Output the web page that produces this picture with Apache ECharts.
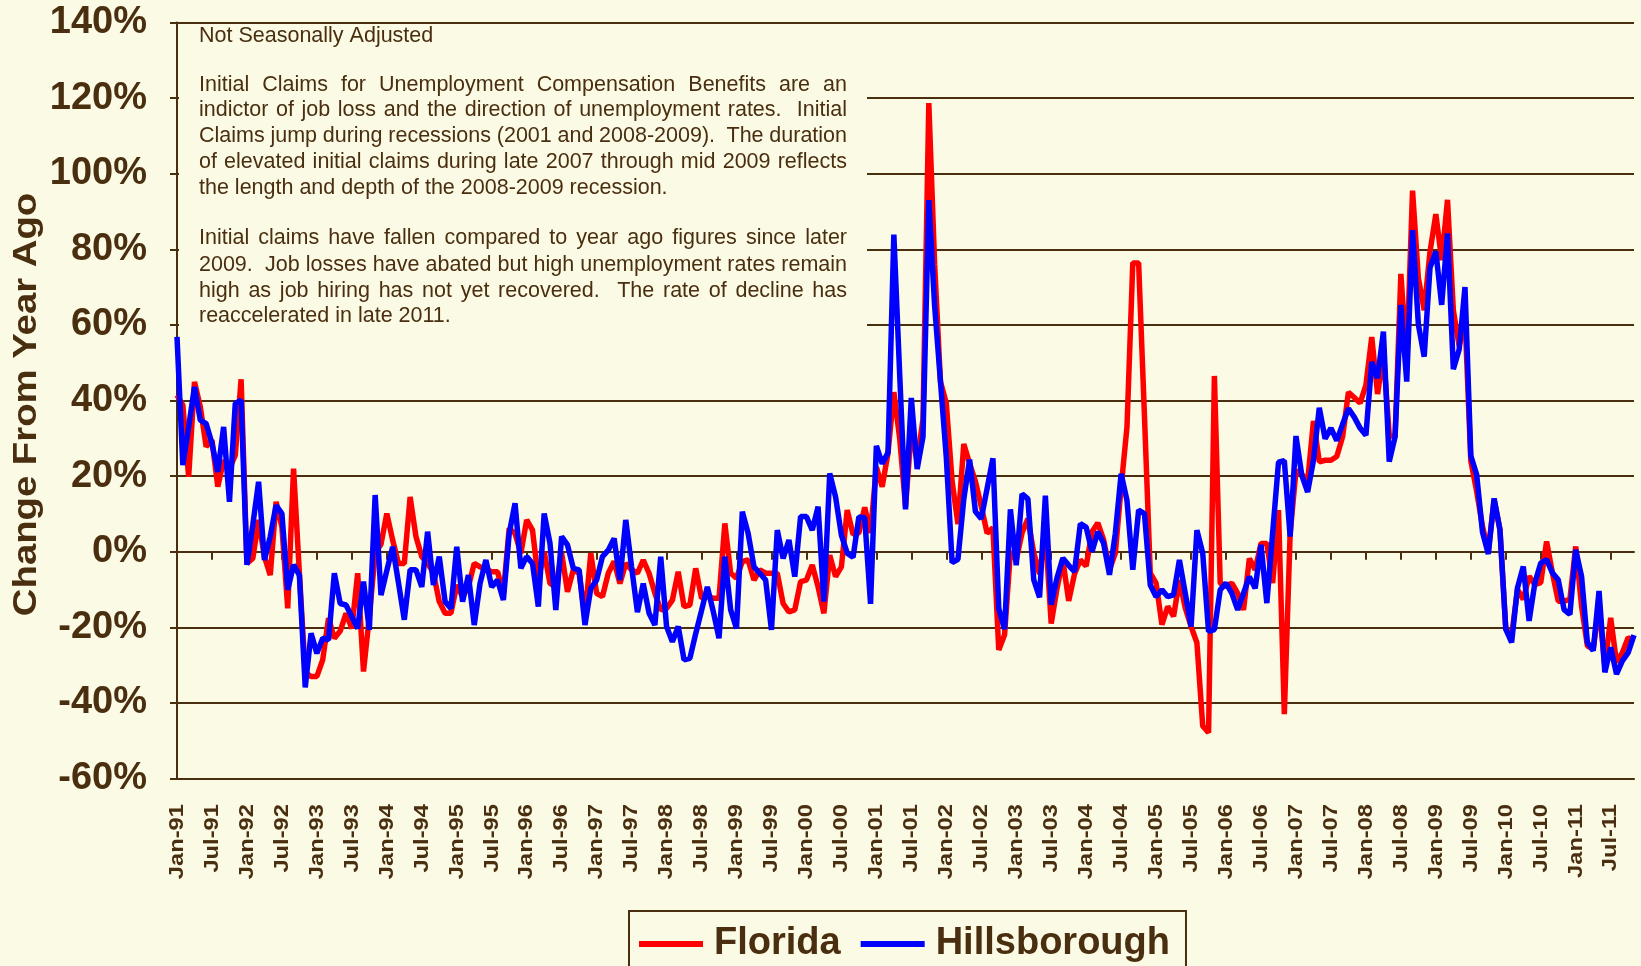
<!DOCTYPE html>
<html>
<head>
<meta charset="UTF-8">
<title>Initial Claims - Change From Year Ago</title>
<style>
  html, body { margin: 0; padding: 0; background: #fbfae4; }
  #main { width: 1641px; height: 966px; }
</style>
</head>
<body>
<div id="main"></div>
<script src="https://cdn.jsdelivr.net/npm/echarts@6/dist/echarts.min.js"></script>
<script>
// months Jan-91 .. Nov-11
var monthNames = ['Jan', 'Feb', 'Mar', 'Apr', 'May', 'Jun', 'Jul', 'Aug', 'Sep', 'Oct', 'Nov', 'Dec'];
var startYear = 1991;
var monthCount = 251;
var months = [];
for (var i = 0; i < monthCount; i++) {
    var yr = (startYear + Math.floor(i / 12)) % 100;
    months.push(monthNames[i % 12] + '-' + (yr < 10 ? '0' + yr : yr));
}

// % change from year ago, one row per year
var florida = [
    41.4, 38.8, 19.8, 44.9, 38.3, 27.8, 29.5, 17.2, 24.2, 22, 25.5, 45.6,
    -3.1, -1.8, 8.4, -1.3, -6.2, 13.2, 6.6, -15, 22, -5.7, -32, -33,
    -33, -28.6, -17.6, -22.9, -21, -16.3, -20.3, -5.7, -31.7, -17.2, -0.4, 2,
    10.1, 3.1, -3.1, -3.1, 14.5, 4, -1.3, -3, -5.7, -13.2, -16.3, -16.3,
    -8.8, -11.9, -9.3, -3.1, -4, -4.8, -5.3, -5.3, -11, 6.2, 4.8, -0.4,
    8.4, 5.7, -7.5, 0, -8.4, -9.3, -0.4, -10.6, -4.8, -5.7, -17.2, -0.4,
    -11, -11.9, -5.7, -2.6, -8.4, -3.1, -4.8, -5.7, -2.2, -5.7, -11, -15.4,
    -15, -12.8, -5.3, -14.5, -14.1, -4.4, -12.3, -11.9, -12.3, -12.3, 7.5, -5.7,
    -7, -2.6, -2.2, -7.5, -4.8, -5.7, -5.7, -5.7, -13.7, -15.9, -15.4, -7.9,
    -7.5, -3.5, -9.3, -16.3, -0.9, -6.6, -4, 11, 4.6, 5, 11.7, 5,
    22.4, 17.2, 26.1, 42.2, 30, 12, 32, 24, 35, 118.7, 76, 45,
    39.3, 18.6, 7.3, 28.5, 23.3, 18.6, 12, 4.9, 6.3, -26, -22, 0,
    -2.2, 5, 8.7, -0.3, -5.9, 5.4, -19, -9.7, -2.2, -13, -5.9, -2.2,
    -3.8, 5.3, 7.6, 3.1, -4.8, -0.4, 17.1, 32.9, 76.4, 76.4, 36, -5.7,
    -8.3, -19.3, -14.5, -17.1, -7.5, -14.9, -19.8, -24.1, -46.1, -47.9, 46.5, -8.3,
    -9.2, -8.3, -11, -15.4, -1.8, -4.8, 2.2, 2.2, -8.3, 11, -43, 4.8,
    21.4, 20.5, 18.6, 34.6, 23.8, 24.2, 24.2, 25.2, 30.4, 42.2, 40.8, 39.3,
    44.1, 56.8, 41.7, 52.5, 30.8, 30.4, 73.5, 50.7, 95.5, 72.4, 63.9, 79.4,
    89.3, 77.1, 93.1, 63.9, 54.4, 62, 24, 16, 6.7, 0.1, 13.7, 5.8,
    -20.5, -22.3, -10, -12.6, -6.5, -8.7, -8.2, 2.7, -5.6, -13.1, -13.1, -12.6,
    1.4, -14.4, -24.9, -25.8, -14.4, -30.2, -17.5, -29.3, -26.7, -22.7, -23.6
];
var hillsborough = [
    56.8, 22.9, 33, 43.6, 34.8, 33.9, 28.6, 21.1, 33, 13.2, 39.2, 40.1,
    -3.5, 7, 18.5, -2.2, 4, 12.3, 10.1, -10.1, -3.5, -6.2, -35.9, -21.6,
    -26.9, -22.9, -23.3, -5.7, -13.7, -14.1, -17.2, -20.3, -7.9, -20.7, 15, -11.5,
    -5, 1.3, -8.2, -18, -4.8, -4.8, -9.3, 5.3, -8.8, -1.3, -13.2, -15,
    1.3, -13.2, -6.2, -19.4, -8.4, -2.2, -9.3, -7.5, -12.8, 4.8, 12.8, -4.4,
    -1.3, -3.1, -14.5, 10.1, 2.2, -15.4, 4, 1.8, -4.4, -4.8, -19.4, -9.7,
    -7.5, -1.3, 0.4, 3.5, -7.5, 8.4, -4, -16, -8.4, -16.3, -19.4, -1.3,
    -19.8, -23.8, -19.8, -28.6, -28.2, -21.7, -15.6, -9.3, -15.7, -22.9, -1.3, -15.4,
    -20.3, 10.6, 4.8, -4, -5.7, -7.5, -20.7, 5.7, -1.8, 3.1, -6.6, 9.3,
    9.3, 5.7, 11.9, -13.2, 20.7, 14.5, 4.4, -0.4, -1.5, 9.2, 9, -13.8,
    28, 23.3, 26.2, 83.9, 47, 11.2, 40.7, 21.9, 30.4, 93, 65, 45,
    25, -2.9, -2, 13.9, 24.4, 10.6, 8.7, 16.7, 24.7, -15, -20.5, 11.2,
    -3.6, 15.3, 14, -7.4, -12.1, 14.8, -14, -6.9, -1.7, -3.6, -5.3, 7.4,
    6.5, 0, 5.3, 2.2, -6.1, 4.8, 20.6, 13.6, -4.8, 11, 10.1, -8.8,
    -11.9, -10.1, -11.9, -11.4, -2.2, -11, -19.8, 5.7, -0.4, -21.1, -20.6, -10.1,
    -8.3, -11, -15.4, -11, -6.6, -9.7, 1.8, -13.6, 5, 23.7, 24.1, 4,
    30.6, 20.2, 15.8, 24.2, 38.1, 29.9, 32.7, 29.4, 33.7, 37.9, 35.6, 32.7,
    30.8, 50.2, 45.9, 58.2, 23.8, 30.4, 65.3, 45, 85.1, 60.1, 51.6, 75.2,
    79.4, 65.3, 84.2, 48.3, 53.5, 70, 25.4, 20.4, 5.2, -0.6, 14.1, 5.8,
    -20.5, -24, -9.6, -3.9, -18.3, -8.2, -3, -2.1, -5.6, -7.4, -15.3, -16.6,
    0.5, -6.5, -24, -26.2, -10.4, -31.9, -25.3, -32.4, -28.9, -26.7, -22.1
];

var yMin = -60, yMax = 140, yStep = 20;
var labelEvery = 6; // one x label per half year

var yTitle = 'Change From Year Ago';
var noteTitle = 'Not Seasonally Adjusted';
// [text, justify]
var noteLines = [
    ['Initial Claims for Unemployment Compensation Benefits are an', true],
    ['indictor of job loss and the direction of unemployment rates.  Initial', true],
    ['Claims jump during recessions (2001 and 2008-2009).  The duration', true],
    ['of elevated initial claims during late 2007 through mid 2009 reflects', true],
    ['the length and depth of the 2008-2009 recession.', false],
    ['Initial claims have fallen compared to year ago figures since later', true],
    ['2009.  Job losses have abated but high unemployment rates remain', true],
    ['high as job hiring has not yet recovered.  The rate of decline has', true],
    ['reaccelerated in late 2011.', false]
];

var brown = '#4a2e10';
var bg = '#fbfae4';
var fontFam = '"Liberation Sans", Arial, sans-serif';
var noteFont = '21.5px ' + fontFam;

var myChart = echarts.init(document.getElementById('main'));
myChart.setOption({
    backgroundColor: bg,
    animation: false,
    textStyle: { fontFamily: fontFam },
    grid: { left: 177, right: 7, top: 22.5, bottom: 187.5, containLabel: false, outerBoundsMode: 'none' },
    legend: {
        data: ['Florida', 'Hillsborough'],
        left: 629,
        top: 911,
        padding: [14, 16, 40, 10],
        itemGap: 20,
        itemWidth: 64,
        itemHeight: 6,
        icon: 'rect',
        borderColor: brown,
        borderWidth: 2,
        textStyle: { fontSize: 38, fontWeight: 'bold', color: brown, fontFamily: fontFam, padding: [0, 0, 0, 6] }
    },
    xAxis: [{
        type: 'category',
        data: months,
        boundaryGap: false,
        axisLine: { onZero: false, lineStyle: { color: brown, width: 2 } },
        axisTick: { show: false },
        axisLabel: { show: false },   // drawn below, stretched like the original
        splitLine: { show: false }
    }, {
        // zero line with the half-year tick marks
        type: 'category',
        data: months,
        boundaryGap: false,
        position: 'bottom',
        axisLine: { onZero: true, lineStyle: { color: brown, width: 2 } },
        axisTick: { show: true, interval: labelEvery - 1, length: 8, lineStyle: { color: brown, width: 2 } },
        axisLabel: { show: false },
        splitLine: { show: false }
    }],
    yAxis: {
        type: 'value',
        min: yMin,
        max: yMax,
        interval: yStep,
        axisLine: { show: true, lineStyle: { color: brown, width: 2 } },
        axisTick: { show: true, length: 7, lineStyle: { color: brown, width: 2 } },
        axisLabel: {
            formatter: '{value}%',
            margin: 30,
            fontSize: 38,
            fontWeight: 'bold',
            color: brown,
            fontFamily: fontFam
        },
        splitLine: { show: true, lineStyle: { color: brown, width: 2 } }
    },
    series: [{
        name: 'Florida',
        type: 'line',
        data: florida,
        symbol: 'none',
        color: '#ff0000',
        lineStyle: { width: 5.5, color: '#ff0000' }
    }, {
        name: 'Hillsborough',
        type: 'line',
        data: hillsborough,
        symbol: 'none',
        color: '#0000ff',
        lineStyle: { width: 5.5, color: '#0000ff' }
    }]
});

// measure words so the note block can be justified like the original
var ctx = document.createElement('canvas').getContext('2d');
ctx.font = noteFont;

function noteText(text, x, y, width, justify) {
    var st = function (t) { return { text: t, font: noteFont, fill: brown, verticalAlign: 'middle' }; };
    if (!justify) {
        return [{ type: 'text', x: x, y: y, z: 101, style: st(text) }];
    }
    var words = text.split(' ');
    var total = 0;
    words.forEach(function (w) { total += ctx.measureText(w).width; });
    var gap = (width - total) / (words.length - 1);
    var els = [], cx = x;
    words.forEach(function (w) {
        if (w) els.push({ type: 'text', x: cx, y: y, z: 101, style: st(w) });
        cx += ctx.measureText(w).width + gap;
    });
    return els;
}

var noteX = 199, noteW = 648;
var lineYs = [84.7, 109.8, 136, 162, 188.3, 238.5, 264.7, 290.9, 316];
var graphics = [
    // note panel hides the inner grid lines behind the text
    { type: 'rect', z: 100, shape: { x: 179, y: 24, width: 688, height: 305 }, style: { fill: bg } }
];
graphics = graphics.concat(noteText(noteTitle, noteX, 36.5, noteW, false));
noteLines.forEach(function (l, i) {
    graphics = graphics.concat(noteText(l[0], noteX, lineYs[i], noteW, l[1]));
});

// rotated x labels, placed through the category axis
var labelTop = 804;
for (var k = 0; k < months.length; k += labelEvery) {
    var px = myChart.convertToPixel({ xAxisIndex: 0 }, k);
    graphics.push({
        type: 'text', x: px, y: labelTop, rotation: Math.PI / 2, scaleX: 1.13, z: 101,
        style: { text: months[k], font: 'bold 21px ' + fontFam, fill: brown, align: 'right', verticalAlign: 'middle' }
    });
}

// axis title, stretched along its length like the original
var midY = (myChart.convertToPixel({ yAxisIndex: 0 }, yMin) + myChart.convertToPixel({ yAxisIndex: 0 }, yMax)) / 2;
graphics.push({
    type: 'text', x: 27, y: midY + 4, rotation: Math.PI / 2, scaleX: 1.16, z: 101,
    style: { text: yTitle, font: 'bold 33px ' + fontFam, fill: brown, align: 'center', verticalAlign: 'middle' }
});

myChart.setOption({ graphic: { elements: graphics } });
</script>
</body>
</html>
